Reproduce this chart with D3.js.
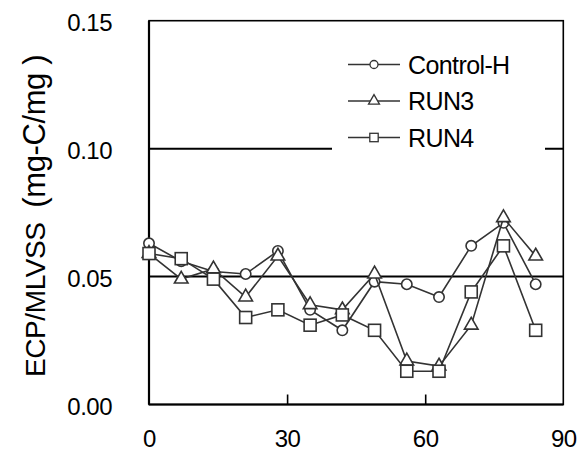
<!DOCTYPE html>
<html>
<head>
<meta charset="utf-8">
<script src="https://cdn.jsdelivr.net/npm/d3@7"></script>
<style>
body{margin:0;background:#fff;}
text{font-family:"Liberation Sans",Arial,sans-serif;fill:#000;}
</style>
</head>
<body>
<svg id="chart" width="584" height="455"></svg>
<script>
const days = [0,7,14,21,28,35,42,49,56,63,70,77,84];
const controlH = [0.063,0.056,0.052,0.051,0.060,0.037,0.029,0.048,0.047,0.042,0.062,0.071,0.047];
const run3 = [0.059,0.049,0.053,0.042,0.058,0.039,0.037,0.051,0.017,0.015,0.031,0.073,0.058];
const run4 = [0.059,0.057,0.049,0.034,0.037,0.031,0.035,0.029,0.013,0.013,0.044,0.062,0.029];
const xTicks = [0,30,60,90];
const yTicks = [0.00,0.05,0.10,0.15];
const gridValues = [0.05,0.10];
const seriesNames = ["Control-H","RUN3","RUN4"];

const svg = d3.select("#chart");
const L=149, R=563.3, T=20.7, B=404.5;
const x = d3.scaleLinear().domain([0,90]).range([L,R]);
const y = d3.scaleLinear().domain([0,0.15]).range([B,T]);
const ink = "#333";

// grid lines
svg.selectAll("line.grid").data(gridValues).enter().append("line")
  .attr("x1",L).attr("x2",R).attr("y1",d=>y(d)).attr("y2",d=>y(d))
  .attr("stroke","#000").attr("stroke-width",2);

// frame
svg.append("rect").attr("x",L).attr("y",T).attr("width",R-L).attr("height",B-T)
  .attr("fill","none").attr("stroke","#000").attr("stroke-width",1.6);
svg.append("line").attr("x1",L).attr("x2",L).attr("y1",T).attr("y2",B).attr("stroke","#000").attr("stroke-width",2.2);
svg.append("line").attr("x1",L).attr("x2",R).attr("y1",B).attr("y2",B).attr("stroke","#000").attr("stroke-width",2.2);

// x axis
const xAxis = d3.axisBottom(x).tickValues(xTicks).tickSize(0).tickPadding(0).tickFormat(d3.format("d"));
const gx = svg.append("g").attr("transform",`translate(0,${B})`).call(xAxis);
gx.select(".domain").remove();
gx.selectAll("text").attr("font-size",24).attr("letter-spacing",-0.5).attr("dy",null).attr("y",42).attr("font-family","Liberation Sans, Arial, sans-serif").attr("fill","#000");
gx.selectAll(".tick").filter(d=>d>0 && d<90).append("line").attr("y1",0).attr("y2",-10).attr("stroke","#000").attr("stroke-width",1.6);

// y axis
const yAxis = d3.axisLeft(y).tickValues(yTicks).tickSize(0).tickPadding(0).tickFormat(d3.format(".2f"));
const gy = svg.append("g").attr("transform",`translate(${L-37},0)`).call(yAxis);
gy.select(".domain").remove();
gy.selectAll("text").attr("font-size",24).attr("letter-spacing",-0.5).attr("dy","0.42em").attr("font-family","Liberation Sans, Arial, sans-serif").attr("fill","#000");

// y title
const title = svg.append("text").attr("transform","translate(45,377) rotate(-90)")
  .attr("font-size",28).attr("letter-spacing",-0.4).attr("text-anchor","start");
title.append("tspan").text("ECP/MLVSS\u00a0\u00a0");
title.append("tspan").attr("font-size",31).text("(mg-C/mg\u00a0)");

// legend background
svg.append("rect").attr("x",332).attr("y",44).attr("width",213).attr("height",110).attr("fill","#fff");

const symbols = [
  (g,s)=>g.append("circle").attr("r",s),
  (g,s)=>g.append("path").attr("d",d3.symbol().type(d3.symbolTriangle).size(s)()),
  (g,s)=>g.append("rect").attr("x",-s).attr("y",-s).attr("width",2*s).attr("height",2*s)
];
const markerSize = [5.2,80,6];
const legendSize = [4,52,4.2];
const data = [controlH,run3,run4];
const line = d3.line().x(d=>x(d[0])).y(d=>y(d[1]));

data.forEach((vals,i)=>{
  const pts = days.map((d,j)=>[d,vals[j]]);
  svg.append("path").datum(pts).attr("d",line).attr("fill","none").attr("stroke",ink).attr("stroke-width",1.6);
  pts.forEach(p=>{
    const g = svg.append("g").attr("transform",`translate(${x(p[0])},${y(p[1])})`);
    symbols[i](g,markerSize[i]).attr("fill","#fff").attr("stroke",ink).attr("stroke-width",1.6);
  });
});

// legend
const legY = [64.5,101,137.5];
seriesNames.forEach((n,i)=>{
  svg.append("line").attr("x1",348).attr("x2",400).attr("y1",legY[i]).attr("y2",legY[i]).attr("stroke",ink).attr("stroke-width",1.4);
  const g = svg.append("g").attr("transform",`translate(374,${legY[i]})`);
  symbols[i](g,legendSize[i]).attr("fill","#fff").attr("stroke",ink).attr("stroke-width",1.3);
  svg.append("text").attr("x",408).attr("y",legY[i]).attr("dy","0.36em").attr("font-size",25).attr("letter-spacing",-0.6).text(n);
});
</script>
</body>
</html>
